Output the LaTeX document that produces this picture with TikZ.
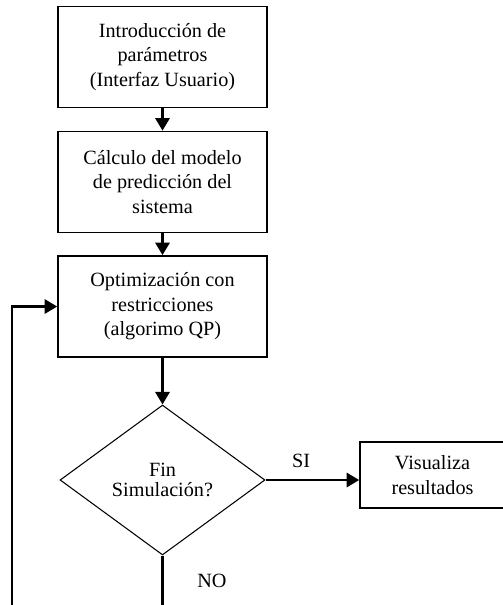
\documentclass[tikz,border=0pt]{standalone}
\usepackage{fontspec}
\setmainfont{Liberation Serif}
\usetikzlibrary{arrows.meta, positioning, shapes.geometric}

\begin{document}
\begin{tikzpicture}[
    x=0.02cm, y=-0.02cm,
    stepbox/.style={draw, line width=0.9pt, minimum width=4.18cm, minimum height=2.02cm, inner sep=0pt, align=center, font=\fontsize{11.5}{14}\selectfont},
    decision/.style={draw, diamond, aspect=1.37, line width=0.6pt, minimum width=4.1cm, minimum height=3cm, inner sep=0pt, align=center, font=\fontsize{11.5}{11.5}\selectfont},
    arrowstyle/.style={-{Triangle[length=2.5mm, width=2.8mm]}, line width=1.6pt},
    lbl/.style={font=\fontsize{11.5}{14}\selectfont},
]
    \useasboundingbox (0,0) rectangle (503,605);

    % Main chain of process boxes
    \node[stepbox] (intro) at (162.5,57) {Introducción de\\parámetros\\(Interfaz Usuario)};
    \node[stepbox] (calc) at (162.5,182) {Cálculo del modelo\\de predicción del\\sistema};
    \node[stepbox] (optim) at (162.5,306.5) {Optimización con\\restricciones\\(algorimo QP)};

    % Decision and result
    \node[decision] (fin) at (162.5,480) {Fin\\Simulación?};
    \node[stepbox, minimum width=2.9cm, minimum height=1.32cm] (visual) at (432.5,475) {Visualiza\\resultados};

    % Arrows down the chain
    \draw[arrowstyle] (intro.south) -- (calc.north);
    \draw[arrowstyle] (calc.south) -- (optim.north);
    \draw[arrowstyle] (optim.south) -- (fin.north);

    % SI branch
    \draw[arrowstyle] (fin.east) -- (fin.east -| visual.west)
        node[pos=0.38, above=1mm, lbl] {SI};

    % NO branch loops back to the optimisation step
    \coordinate (loopL) at (12,606);
    \draw[arrowstyle] (fin.south) -- (fin.south |- loopL)
        node[pos=0.5, right=0.55cm, lbl] {NO}
        -- (loopL) -- (loopL |- optim.west) -- (optim.west);

\end{tikzpicture}
\end{document}
